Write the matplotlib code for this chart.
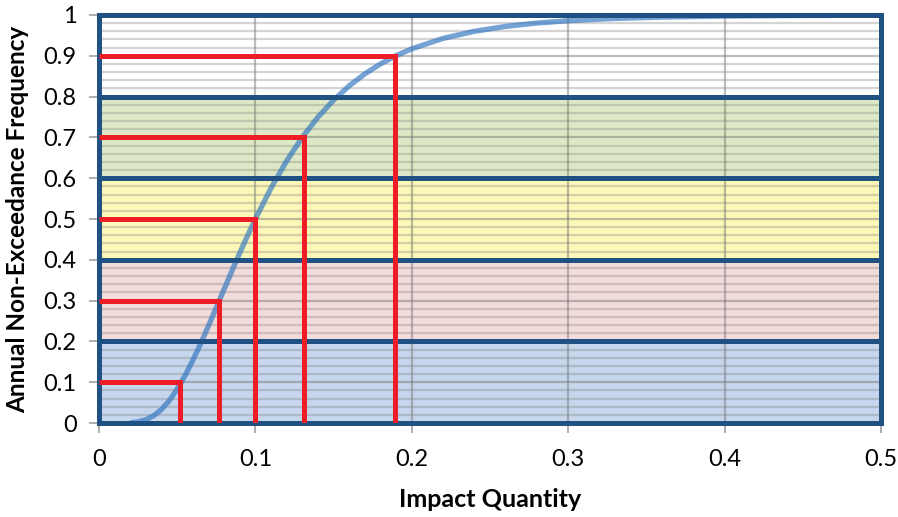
import matplotlib
matplotlib.use("Agg")
import matplotlib.pyplot as plt
from matplotlib.ticker import MultipleLocator

plt.rcParams['font.family'] = ['Lato', 'DejaVu Sans']

# Cumulative curve: impact quantity vs annual non-exceedance frequency
impact = [0.020, 0.025, 0.030, 0.035, 0.040, 0.045, 0.050, 0.055, 0.060, 0.065,
          0.070, 0.075, 0.080, 0.085, 0.090, 0.095, 0.100, 0.110, 0.120, 0.130,
          0.140, 0.150, 0.160, 0.170, 0.180, 0.190, 0.200, 0.220, 0.240, 0.260,
          0.280, 0.300, 0.330, 0.360, 0.400, 0.440, 0.470]
frequency = [0.0006, 0.0028, 0.0080, 0.0179, 0.0334, 0.0551, 0.0829, 0.1159, 0.1535, 0.1944,
             0.2379, 0.2826, 0.3277, 0.3726, 0.4166, 0.4591, 0.5000, 0.5756, 0.6423, 0.7002,
             0.7495, 0.7913, 0.8264, 0.8557, 0.8801, 0.9004, 0.9171, 0.9426, 0.9600, 0.9720,
             0.9803, 0.9860, 0.9915, 0.9948, 0.9972, 0.9985, 0.9990]

# Quantile markers (frequency level -> impact quantity)
quantile_levels = [0.1, 0.3, 0.5, 0.7, 0.9]
quantile_values = [0.052, 0.077, 0.100, 0.131, 0.189]

# Frequency bands
band_edges = [0.0, 0.2, 0.4, 0.6, 0.8, 1.0]
band_colors = ['#c6d6ec', '#f2dcdb', '#fbf8b8', '#dde9c6', '#ffffff']

x_ticks = [0, 0.1, 0.2, 0.3, 0.4, 0.5]
x_tick_labels = ['0', '0.1', '0.2', '0.3', '0.4', '0.5']
y_ticks = [0, 0.1, 0.2, 0.3, 0.4, 0.5, 0.6, 0.7, 0.8, 0.9, 1.0]
y_tick_labels = ['0', '0.1', '0.2', '0.3', '0.4', '0.5', '0.6', '0.7', '0.8', '0.9', '1']

dark_blue = '#1f5283'
red = '#ee1c25'

fig = plt.figure(figsize=(8.98, 5.17), dpi=100)
ax = fig.add_axes([0.1102, 0.1818, 0.8708, 0.7892])
ax.set_xlim(0, 0.5)
ax.set_ylim(0, 1)

for lo, hi, c in zip(band_edges[:-1], band_edges[1:], band_colors):
    ax.axhspan(lo, hi, color=c, zorder=0, lw=0)

# grid: fine horizontal lines every 0.02, vertical every 0.1
ax.yaxis.set_minor_locator(MultipleLocator(0.02))
ax.grid(True, which='minor', axis='y', color='#7f7f7f', alpha=0.33, lw=1.6, zorder=1)
ax.grid(True, which='major', axis='y', color='#6f6f6f', alpha=0.45, lw=1.6, zorder=1)
ax.grid(True, which='major', axis='x', color='#6f6f6f', alpha=0.45, lw=1.6, zorder=1)
ax.set_axisbelow(True)

ax.plot(impact, frequency, color='#2e74c0', alpha=0.66, lw=3.8,
        solid_capstyle='butt', zorder=2)

for edge in band_edges:
    ax.axhline(edge, color=dark_blue, lw=3.6, zorder=3, clip_on=False)
for xe in (0, 0.5):
    ax.axvline(xe, color=dark_blue, lw=3.6, zorder=3, clip_on=False)

for p, q in zip(quantile_levels, quantile_values):
    ax.plot([0, q, q], [p, p, 0], color=red, lw=3.6, zorder=4,
            solid_joinstyle='miter', solid_capstyle='butt')

for s in ax.spines.values():
    s.set_visible(False)

ax.set_xticks(x_ticks)
ax.set_xticklabels(x_tick_labels)
ax.set_yticks(y_ticks)
ax.set_yticklabels(y_tick_labels)
ax.tick_params(axis='both', which='major', length=7, width=1.2, color='#a0a0a0',
               labelsize=17, labelcolor='#000000')
ax.tick_params(axis='x', pad=12)
ax.tick_params(axis='y', pad=9)
ax.tick_params(axis='y', which='minor', length=0)

ax.set_xlabel('Impact Quantity', fontsize=18, fontweight='bold', labelpad=13)
ax.set_ylabel('Annual Non-Exceedance Frequency', fontsize=17.5, fontweight='bold', labelpad=10)

fig.savefig('out.png', dpi=100)
